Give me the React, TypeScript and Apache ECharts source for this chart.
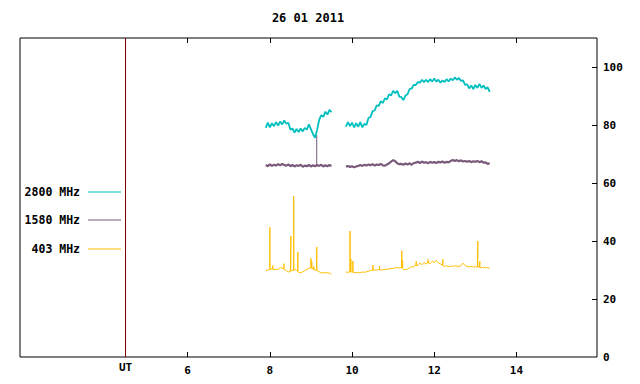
import React, { useEffect, useRef } from 'react';
import * as echarts from 'echarts';

const chartTitle = '26 01 2011';
const seriesNames = ['2800 MHz', '1580 MHz', '403 MHz'];
const seriesColors = ['#00bfbf', '#7a5a7a', '#ffbf00'];
const seriesWidths = [1.8, 2.2, 1];

const hoursA = [7.90, 7.95, 8.00, 8.05, 8.10, 8.15, 8.20, 8.25, 8.30, 8.35, 8.40, 8.45, 8.50, 8.55, 8.60, 8.65, 8.70, 8.75, 8.80, 8.85, 8.90, 8.95, 9.00, 9.05, 9.10, 9.15, 9.20, 9.25, 9.30, 9.35, 9.40, 9.45, 9.50];
const hoursB = [9.85, 9.90, 9.95, 10.00, 10.05, 10.10, 10.15, 10.20, 10.25, 10.30, 10.35,
  10.40, 10.45, 10.50, 10.55, 10.60, 10.65, 10.70, 10.75, 10.80, 10.85, 10.90, 10.95, 11.00, 11.05, 11.10, 11.15, 11.20, 11.25, 11.30, 11.35,
  11.40, 11.45, 11.50, 11.55, 11.60, 11.65, 11.70, 11.75, 11.80, 11.85, 11.90, 11.95, 12.00, 12.05, 12.10, 12.15, 12.20, 12.25, 12.30, 12.35,
  12.40, 12.45, 12.50, 12.55, 12.60, 12.65, 12.70, 12.75, 12.80, 12.85, 12.90, 12.95, 13.00, 13.05, 13.10, 13.15, 13.20, 13.25, 13.30, 13.35];

const mhz2800A = [79.0, 80.8, 79.2, 80.6, 79.6, 81.0, 79.8, 81.2, 80.2, 81.6, 80.4, 80.8, 78.4, 78.8, 77.4, 78.6, 77.6, 78.8, 77.8, 79.0, 78.4, 80.2, 78.6, 76.8, 75.6, 78.4, 81.8, 83.4, 82.8, 84.6, 83.6, 85.2, 84.4];
const mhz2800B = [79.4, 81.0, 79.6, 80.8, 79.2, 80.6, 79.4, 81.0, 79.2, 80.4, 80.0,
  82.4, 82.8, 84.8, 85.0, 86.8, 86.6, 88.2, 87.6, 89.2, 88.8, 90.6, 90.2, 91.8, 91.0, 91.8, 89.8, 89.6, 88.6, 90.2, 90.6,
  92.4, 92.6, 93.8, 93.8, 94.8, 94.6, 95.6, 94.8, 95.6, 94.8, 95.8, 95.0, 96.0, 95.0, 95.6, 94.6, 95.4, 94.8, 95.8, 95.0,
  96.0, 95.4, 96.4, 95.6, 96.2, 95.2, 95.4, 93.8, 94.0, 92.6, 93.6, 92.4, 93.8, 92.8, 94.2, 92.8, 93.6, 92.4, 93.0, 91.4];

const mhz1580A = [66.2, 65.8, 66.4, 65.9, 66.3, 66.0, 66.5, 66.1, 66.6, 66.2, 66.0, 66.4, 65.8, 66.2, 65.7, 66.1, 65.9, 66.3, 65.6, 66.0, 65.8, 66.2, 65.7, 66.1, 65.8, 66.2, 65.9, 66.3, 65.7, 66.1, 65.8, 66.2, 65.9];
const mhz1580B = [65.6, 65.9, 65.5, 65.8, 65.4, 65.7, 65.9, 66.2, 65.9, 66.3, 66.0,
  66.4, 66.1, 66.5, 66.0, 66.4, 66.2, 66.6, 66.1, 66.0, 66.4, 66.8, 67.4, 67.9, 67.5, 66.8, 66.5, 66.6, 66.3, 66.7, 66.4,
  66.8, 66.3, 66.9, 67.0, 67.3, 66.9, 67.4, 67.0, 67.2, 66.8, 67.3, 67.0, 67.2, 66.9, 67.3, 67.1, 67.4, 67.0, 67.3, 67.1,
  67.6, 67.9, 67.6, 67.9, 67.5, 67.8, 67.4, 67.6, 67.3, 67.6, 67.2, 67.5, 67.3, 67.6, 67.2, 67.5, 67.0, 67.1, 66.6, 66.8];

const mhz403A = [29.8, 30.0, 30.2, 30.4, 30.1, 30.3, 30.2, 30.8, 30.6, 30.4, 29.8, 29.3, 29.6, 29.9, 30.2, 29.8, 29.2, 29.1, 29.3, 29.8, 30.2, 30.6, 30.8, 30.3, 30.0, 29.8, 29.4, 29.0, 29.1, 29.0, 29.1, 28.9, 28.6];
const mhz403B = [29.3, 29.2, 29.4, 29.3, 29.1, 29.2, 29.0, 29.1, 29.3, 29.2, 29.4,
  29.6, 29.8, 29.9, 30.1, 29.9, 30.2, 30.0, 30.1, 30.3, 30.2, 30.4, 30.5, 30.6, 30.7, 30.9, 30.7, 30.8, 30.2, 30.1, 30.4,
  30.7, 31.2, 31.0, 31.8, 31.5, 32.4, 31.8, 32.6, 32.0, 32.8, 32.3, 33.0, 32.6, 33.3, 32.5, 32.1, 31.6, 31.2, 31.5, 31.1,
  31.4, 31.2, 31.5, 31.3, 31.2, 31.6, 32.3, 31.6, 31.2, 31.1, 31.3, 31.0, 31.1, 31.2, 30.9, 30.8, 31.0, 30.7, 30.9, 30.6];

// spikes: [hour, base, peak]
const spikes2800: number[][] = [];
const spikes1580 = [[9.14, 66.0, 76.5]];
const spikes403 = [
  [8.00, 30.2, 44.7], [8.07, 30.3, 31.5], [8.34, 30.4, 32.2], [8.51, 29.6, 41.7], [8.58, 29.9, 55.5],
  [8.68, 29.6, 36.2], [9.00, 30.8, 34.0], [9.02, 30.6, 32.8], [9.07, 30.2, 31.2], [9.14, 29.9, 37.9],
  [9.95, 29.4, 43.4], [9.97, 29.4, 33.8], [10.02, 29.3, 33.1], [10.51, 29.9, 31.7], [10.67, 30.1, 31.4],
  [11.21, 30.8, 36.6], [11.23, 30.6, 33.4], [11.56, 31.5, 33.0], [11.85, 32.4, 33.6], [12.21, 31.5, 33.7],
  [13.06, 31.1, 40.0], [13.11, 30.9, 33.0],
];

const xTicks = [6, 8, 10, 12, 14];
const yTicks = [0, 20, 40, 60, 80, 100];
const yInnerTicks = [20, 40, 60, 80, 100];
const utHour = 4.49;
const xMin = 1.92;
const xMax = 15.96;
const yMin = 0;
const yMax = 110;

const FONT = 'DejaVu Sans Mono';

function buildData(hA: number[], vA: number[], hB: number[], vB: number[]) {
  const pts: any[] = [];
  hA.forEach((h, i) => pts.push([h, vA[i]]));
  pts.push([(hA[hA.length - 1] + hB[0]) / 2, '-']);
  hB.forEach((h, i) => pts.push([h, vB[i]]));
  return pts;
}

function withSpikes(pts: any[], spikes: number[][]) {
  const out = pts.slice();
  spikes.forEach(([h, base, peak]) => {
    let idx = out.findIndex((p) => p[0] > h);
    if (idx < 0) idx = out.length;
    out.splice(idx, 0, [h, base], [h, peak], [h, base]);
  });
  return out;
}

function spikeOnly(spikes: number[][]) {
  const out: any[] = [];
  spikes.forEach(([h, base, peak]) => {
    out.push([h, base], [h, peak], [h, '-']);
  });
  return out;
}

export default function App() {
  const ref = useRef<HTMLDivElement>(null);
  useEffect(() => {
    if (!ref.current) return;
    const chart = echarts.init(ref.current, undefined, { renderer: 'svg' });
    const data = [
      buildData(hoursA, mhz2800A, hoursB, mhz2800B),
      buildData(hoursA, mhz1580A, hoursB, mhz1580B),
      withSpikes(buildData(hoursA, mhz403A, hoursB, mhz403B), spikes403),
    ];
    const spikeData = [spikeOnly(spikes2800), spikeOnly(spikes1580), []];
    const legendTops = [185, 213, 242];
    const textBase = { fontFamily: FONT, fontWeight: 'bold' as const, fontSize: 11, color: '#000' };
    const mainSeries = seriesNames.map((name, i) => ({
      name,
      type: 'line',
      data: data[i],
      showSymbol: false,
      symbol: 'none',
      connectNulls: false,
      color: seriesColors[i],
      lineStyle: { width: seriesWidths[i], color: seriesColors[i] },
      z: 3 - i,
      markLine: i === 0 ? {
        symbol: 'none',
        silent: true,
        animation: false,
        lineStyle: { color: '#7a0000', type: 'solid', width: 1 },
        label: { show: true, position: 'start', formatter: 'UT', distance: 5, ...textBase },
        data: [{ xAxis: utHour }],
      } : undefined,
    }));
    const spikeSeries = seriesNames
      .map((name, i) => ({
        name,
        type: 'line',
        data: spikeData[i],
        showSymbol: false,
        symbol: 'none',
        connectNulls: false,
        color: seriesColors[i],
        lineStyle: { width: 1, color: seriesColors[i] },
        z: 3 - i,
      }))
      .filter((s) => s.data.length > 0);
    chart.setOption({
      animation: false,
      backgroundColor: '#fff',
      title: {
        text: chartTitle,
        left: 308,
        top: 12,
        textAlign: 'center',
        padding: 0,
        textStyle: { ...textBase, fontSize: 12 },
      },
      legend: seriesNames.map((name, i) => ({
        data: [name],
        right: 519,
        top: legendTops[i],
        align: 'right',
        orient: 'horizontal',
        padding: 0,
        icon: 'rect',
        itemWidth: 33,
        itemHeight: 1,
        selectedMode: false,
        textStyle: { ...textBase, fontSize: 11.5, lineHeight: 14, padding: [0, 3, 0, 0] },
      })),
      grid: {
        left: 20,
        right: 43,
        top: 38,
        bottom: 27,
        show: true,
        borderColor: '#000',
        borderWidth: 1,
        backgroundColor: 'transparent',
      },
      xAxis: [
        {
          type: 'value',
          position: 'bottom',
          min: xMin,
          max: xMax,
          axisLine: { show: false },
          splitLine: { show: false },
          axisTick: { show: true, inside: true, length: 5, customValues: xTicks, lineStyle: { color: '#000' } },
          axisLabel: { show: true, customValues: xTicks, margin: 8, ...textBase },
        },
        {
          type: 'value',
          position: 'top',
          min: xMin,
          max: xMax,
          axisLine: { show: false },
          splitLine: { show: false },
          axisTick: { show: true, inside: true, length: 5, customValues: xTicks, lineStyle: { color: '#000' } },
          axisLabel: { show: false },
        },
      ],
      yAxis: [
        {
          type: 'value',
          position: 'right',
          min: yMin,
          max: yMax,
          axisLine: { show: false },
          splitLine: { show: false },
          axisTick: { show: true, inside: true, length: 5, customValues: yInnerTicks, lineStyle: { color: '#000' } },
          axisLabel: { show: true, customValues: yTicks, margin: 6, ...textBase },
        },
      ],
      series: [...mainSeries, ...spikeSeries],
    });
    return () => chart.dispose();
  }, []);
  return <div ref={ref} style={{ position: 'fixed', left: 0, top: 0, width: 640, height: 384 }} />;
}
